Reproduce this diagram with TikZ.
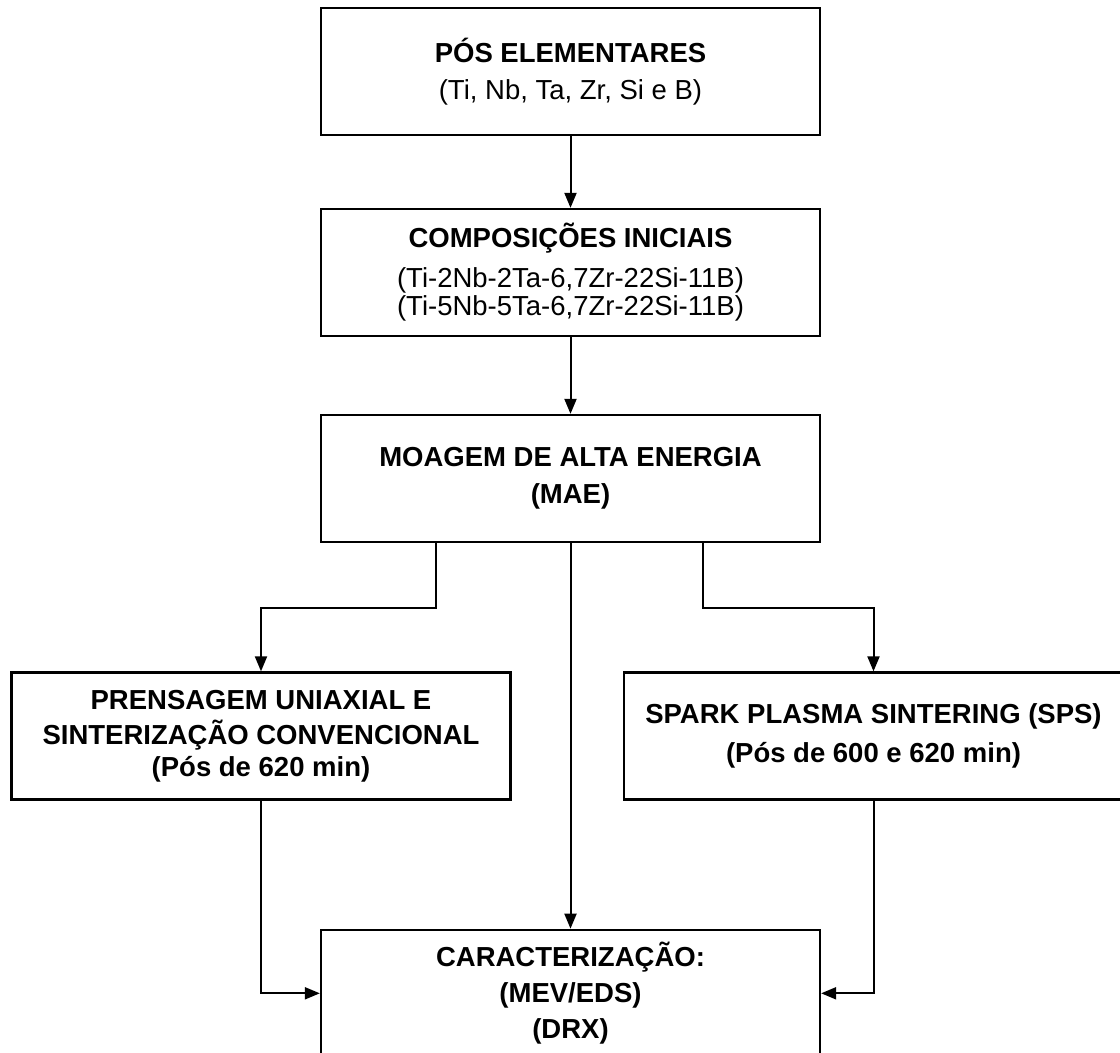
\documentclass[tikz,border=0pt]{standalone}
\usepackage{fontspec}
\setmainfont{Liberation Sans}
\usetikzlibrary{arrows.meta}
\begin{document}
\begin{tikzpicture}[x=1pt,y=-1pt,
  box/.style={draw=black, line width=2.3pt, minimum width=499pt, minimum height=127pt,
    align=center, inner sep=0pt, font=\fontsize{27.5}{36}\selectfont},
  boldbox/.style={box, font=\fontsize{27.5}{36}\selectfont\bfseries},
  conn/.style={line width=2pt, -{Triangle[length=15pt,width=12pt]}}]
\useasboundingbox (0,0) rectangle (1120,1053);
\clip (0,0) rectangle (1120,1053);
\fill[white] (0,0) rectangle (1120,1053);

\node[box] (b1) at (570.5,71.5) {\textbf{PÓS ELEMENTARES}\\[1pt](Ti, Nb, Ta, Zr, Si e B)};
\node[box] (b2) at (570.5,272.5) {\textbf{COMPOSIÇÕES INICIAIS}\\[4pt](Ti-2Nb-2Ta-6,7Zr-22Si-11B)\\[-8pt](Ti-5Nb-5Ta-6,7Zr-22Si-11B)};
\node[boldbox] (b3) at (570.5,478.5) {MOAGEM DE ALTA ENERGIA\\[1pt](MAE)};
\node[boldbox] (b4) at (261,736) {PRENSAGEM UNIAXIAL E\\[-1pt]SINTERIZAÇÃO CONVENCIONAL\\[-4pt](Pós de 620 min)};
\node[boldbox] (b5) at (873.5,736) {SPARK PLASMA SINTERING (SPS)\\[3pt](Pós de 600 e 620 min)};
\node[boldbox] (b6) at (570.5,993.3) {CARACTERIZAÇÃO:\\(MEV/EDS)\\(DRX)};

\coordinate (jl) at (436,608);
\coordinate (jr) at (703,608);

\draw[conn] (b1.south) -- (b2.north);
\draw[conn] (b2.south) -- (b3.north);
\draw[conn] (b3.south -| jl) -- (jl) -| (b4.north);
\draw[conn] (b3.south -| jr) -- (jr) -| (b5.north);
\draw[conn] (b3.south) -- (b6.north);
\draw[conn] (b4.south) |- (b6.west);
\draw[conn] (b5.south) |- (b6.east);
\end{tikzpicture}
\end{document}
